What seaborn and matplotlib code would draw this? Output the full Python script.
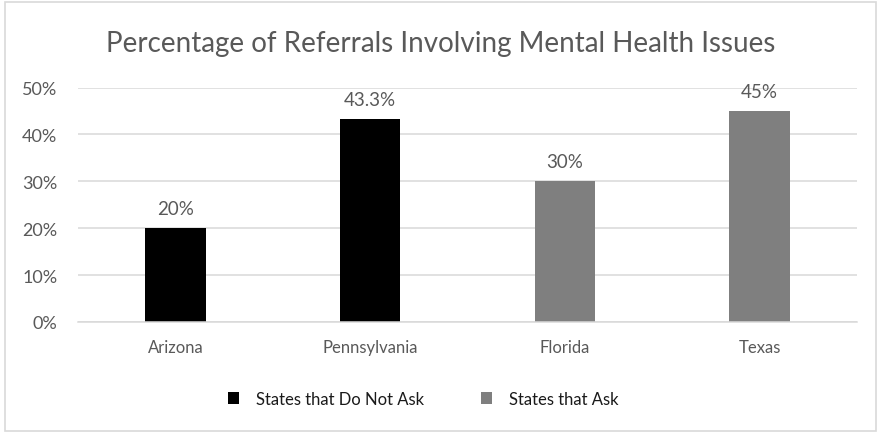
import matplotlib
matplotlib.use("Agg")
import matplotlib.pyplot as plt
import matplotlib.patches as mpatches
import pandas as pd
import seaborn as sns

# ========== Data ==========
states = ["Arizona", "Pennsylvania", "Florida", "Texas"]
pct_values = [20, 43.3, 30, 45]
groups = ["States that Do Not Ask", "States that Do Not Ask",
          "States that Ask", "States that Ask"]
value_labels = ["20%", "43.3%", "30%", "45%"]
y_ticks = [0, 10, 20, 30, 40, 50]
y_tick_labels = ["0%", "10%", "20%", "30%", "40%", "50%"]
title = "Percentage of Referrals Involving Mental Health Issues"

palette = {"States that Do Not Ask": "#000000", "States that Ask": "#7f7f7f"}

df = pd.DataFrame({"state": states, "pct": pct_values, "group": groups})

# ========== Plot ==========
sns.set_theme(style="white")
plt.rcParams['font.family'] = ['Lato', 'DejaVu Sans']

fig = plt.figure(figsize=(8.81, 4.35), dpi=100)
ax = fig.add_axes([78 / 881, 1 - 323 / 435, (857 - 78) / 881, (323 - 88.5) / 435])

sns.barplot(data=df, x="state", y="pct", hue="group", order=states,
            hue_order=list(palette.keys()), palette=palette, dodge=False,
            width=0.31, ax=ax, legend=True, edgecolor="none")

ax.set_ylim(0, 50)
ax.set_xlim(-0.5, len(states) - 0.5)
ax.set_yticks(y_ticks)
ax.set_yticklabels(y_tick_labels)
ax.set_xlabel("")
ax.set_ylabel("")
ax.yaxis.grid(True, color="#d9d9d9", linewidth=1.1)
ax.set_axisbelow(True)
for side in ["left", "right", "top"]:
    ax.spines[side].set_visible(False)
ax.spines["bottom"].set_color("#d9d9d9")
ax.spines["bottom"].set_linewidth(1.1)
ax.tick_params(axis="both", length=0, colors="#595959")
ax.tick_params(axis="y", labelsize=13, pad=15)
ax.tick_params(axis="x", labelsize=12, pad=12)

# value labels on bars
for cont in ax.containers:
    labs = []
    for bar in cont:
        if bar.get_height() > 0:
            idx = int(round(bar.get_x() + bar.get_width() / 2))
            labs.append(value_labels[idx])
        else:
            labs.append("")
    ax.bar_label(cont, labels=labs, padding=8, fontsize=13.5, color="#595959")

fig.text(0.5, 1 - 44 / 435, title, ha="center", va="center",
         fontsize=20, color="#595959")

# legend at the bottom
handles, labels = ax.get_legend_handles_labels()
ax.get_legend().remove()
fig.legend(handles, labels, loc="center", bbox_to_anchor=(423 / 881, 1 - 400 / 435),
           ncol=2, frameon=False, fontsize=12, handlelength=0.7, handleheight=0.7,
           handletextpad=1.0, columnspacing=3.4, labelcolor="#1a1a1a")

# light border around the chart
fig.patches.append(mpatches.Rectangle((5 / 881, 3 / 435), 871 / 881, 429 / 435,
                                      transform=fig.transFigure, fill=False,
                                      edgecolor="#d9d9d9", linewidth=1.2))

fig.savefig("out.png", dpi=100)
